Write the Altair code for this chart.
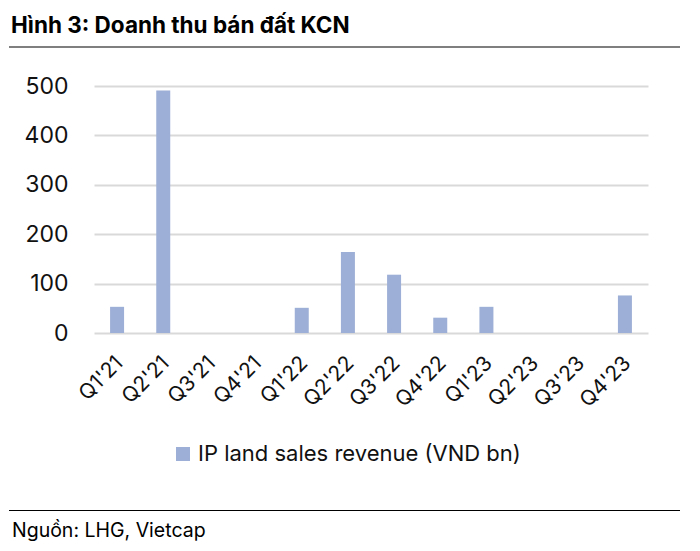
import altair as alt
import pandas as pd

quarters = ["Q1'21", "Q2'21", "Q3'21", "Q4'21", "Q1'22", "Q2'22",
            "Q3'22", "Q4'22", "Q1'23", "Q2'23", "Q3'23", "Q4'23"]
revenue = [53, 491, 0, 0, 51, 164, 118, 31, 53, 0, 0, 76]
series_name = "IP land sales revenue (VND bn)"
title_text = "Hình 3: Doanh thu bán đất KCN"
source_text = "Nguồn: LHG, Vietcap"
y_ticks = [0, 100, 200, 300, 400, 500]

df = pd.DataFrame({"quarter": quarters, "revenue": revenue, "series": series_name})

FONT = "Inter"
BAR = "#9DAFD6"

bars = alt.Chart(df).mark_bar(size=14, color=BAR).encode(
    x=alt.X("quarter:N", sort=quarters, title=None,
            scale=alt.Scale(paddingInner=0, paddingOuter=0),
            axis=alt.Axis(labelAngle=-45, labelAlign="right", labelBaseline="top",
                          labelOffset=-5, labelPadding=19, labelFontSize=21,
                          labelFont=FONT, labelColor="#111111", ticks=False,
                          domain=False, grid=False, labelOverlap=False)),
    y=alt.Y("revenue:Q", title=None,
            scale=alt.Scale(domain=[0, 500], nice=False),
            axis=alt.Axis(values=y_ticks, labelFontSize=23, labelFont=FONT,
                          labelColor="#111111", ticks=False, domain=False,
                          labelPadding=26, gridColor="#D9D9D9", gridWidth=2)),
    color=alt.Color("series:N", scale=alt.Scale(range=[BAR]),
                    legend=alt.Legend(title=None, orient="none", legendX=78, legendY=357,
                                      symbolType="square", symbolSize=196,
                                      symbolStrokeWidth=0, labelFontSize=22,
                                      labelFont=FONT, labelColor="#111111",
                                      labelOffset=4, labelLimit=0, padding=0)),
)

title = alt.Chart(pd.DataFrame({"t": [title_text]})).mark_text(
    align="left", baseline="alphabetic", fontSize=22.5, fontWeight="bold",
    font=FONT, color="#000000").encode(
    x=alt.value(-83), y=alt.value(-53), text="t:N")

source = alt.Chart(pd.DataFrame({"t": [source_text]})).mark_text(
    align="left", baseline="alphabetic", fontSize=19.5, font=FONT,
    color="#000000").encode(
    x=alt.value(-82), y=alt.value(451), text="t:N")

top_line = alt.Chart(pd.DataFrame({"a": [0]})).mark_rule(color="#000000", strokeWidth=1.2).encode(
    x=alt.value(-85), x2=alt.value(586), y=alt.value(-39))
bottom_line = alt.Chart(pd.DataFrame({"a": [0]})).mark_rule(color="#000000", strokeWidth=1.2).encode(
    x=alt.value(-85), x2=alt.value(586), y=alt.value(424.5))

chart = alt.layer(bars, title, source, top_line, bottom_line).properties(
    width=554, height=247,
    autosize=alt.AutoSizeParams(type="none"),
    padding={"left": 86, "top": 78, "right": 44, "bottom": 210},
).configure_view(stroke=None)

chart.save("out.html", embed_options={"renderer": "svg", "actions": False})
